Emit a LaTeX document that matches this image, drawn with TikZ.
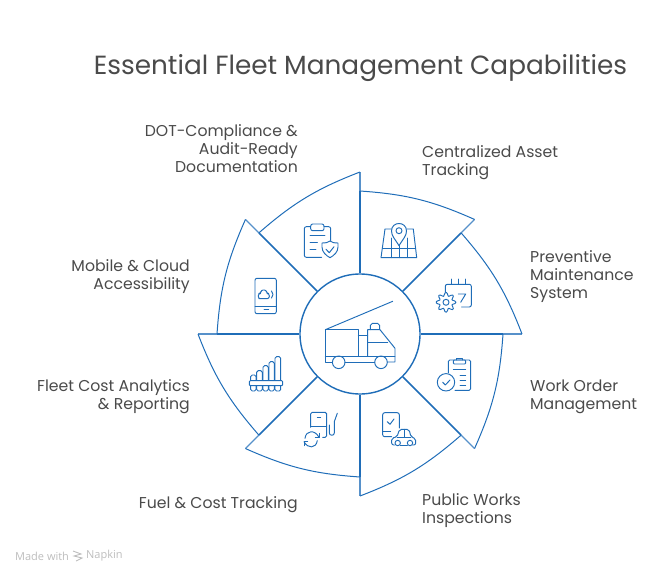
\documentclass[tikz,border=0pt]{standalone}
\usepackage{fontspec}
\setmainfont{Poppins}
\newfontfamily\footfont{Open Sans}
\usepackage{xcolor}
\definecolor{fleetblue}{HTML}{1F6DB8}
\definecolor{labelgray}{HTML}{4A4A4A}
\definecolor{footgray}{HTML}{BDBDBD}
\tikzset{
  petal/.style={draw=fleetblue,line width=1pt},
  spoke/.style={draw=fleetblue,line width=1.5pt},
  spokeend/.style={draw=fleetblue!75,line width=1.1pt},
  icon/.style={draw=fleetblue,line width=0.95pt,line cap=round,line join=round},
  lblleft/.style={anchor=east,align=right,inner sep=0pt,text=labelgray,font=\fontsize{15.7}{18}\selectfont},
  lblright/.style={anchor=west,align=left,inner sep=0pt,text=labelgray,font=\fontsize{15.7}{18}\selectfont},
}
\begin{document}
\begin{tikzpicture}[x=1pt,y=-1pt]
\useasboundingbox (0,0) rectangle (672,575);
\node[circle,minimum size=120pt,inner sep=0pt,draw=fleetblue,line width=1.4pt] (hub) at (360,334) {};
\foreach \i/\a in {1/-90,2/-45,3/0,4/45,5/90,6/135,7/180,8/225} {
  \coordinate (inner\i) at ([shift={(\a:143)}]hub.center);
  \coordinate (tip\i) at ([shift={(\a:162)}]hub.center);
  \draw[spoke] (hub) -- (inner\i);
  \draw[spokeend] (inner\i) -- (tip\i);
}
\foreach \i/\j in {1/2,2/3,3/4,4/5,5/6,6/7,7/8,8/1} {
  \draw[petal] (inner\i) to[bend left=10] (tip\j);
}
% truck
\draw[icon] (325.3,329.7) rectangle (358.3,356);
\draw[icon] (325.3,356) -- (325.3,362) -- (332.4,362);
\draw[icon] (345,362) -- (374.7,362);
\draw[icon] (387.3,362) -- (395,362) -- (395,348.3) -- (380,329.7) -- (367.7,329.7) -- (367.7,356);
\draw[icon] (325.3,356) -- (395,356);
\draw[icon] (358.3,335) -- (367.7,335);
\draw[icon] (367.7,342.3) -- (387.7,342.3);
\draw[icon] (370.3,329.7) -- (370.3,325.5) to[bend left=20] (372.5,323.3) -- (377.5,323.3) to[bend left=20] (379.7,325.5) -- (379.7,329.7);
\draw[icon] (325.3,329.7) -- (392.7,301.3);
\draw[icon] (338.7,362.3) circle (6.3);
\draw[icon] (381,362.3) circle (6.3);
% map pin
\draw[icon] (399,230.7) circle (3);
\draw[icon] (399,245.7) .. controls (395,239) and (391.5,236) .. (391.5,231) .. controls (391.5,221) and (406.5,221) .. (406.5,231) .. controls (406.5,236) and (403,239) .. (399,245.7);
\draw[icon] (391.7,229) -- (385,229) -- (381,257.7) -- (416.7,257.7) -- (413.3,229) -- (406.7,229);
\draw[icon] (382.7,248.3) -- (415,248.3);
\draw[icon] (391.7,238) -- (391.7,257.7);
\draw[icon] (407,238) -- (407,257.7);
\draw[icon] (399,245.7) -- (399,257.7);
% calendar and gear
\draw[icon,rounded corners=2pt] (445.3,292) -- (445.3,284.3) -- (471.3,284.3) -- (471.3,307) -- (461.7,307);
\draw[icon] (451.7,279) -- (451.7,284.3);
\draw[icon] (458.3,279) -- (458.3,284.3);
\draw[icon] (465,279) -- (465,284.3);
\draw[icon] (458.3,294) -- (465.7,294) -- (460.7,302.3);
\draw[icon,shift={(446,302.3)}] plot[smooth cycle,domain=0:352,samples=45] (\x:{8.2+1.8*cos(8*\x)});
\draw[icon] (446,302.3) circle (3);
% clipboard with tick
\draw[icon,rounded corners=1.5pt] (448.3,373) -- (448.3,360) -- (470.7,360) -- (470.7,390.3) -- (455,390.3);
\draw[icon,rounded corners=1pt] (453.3,360) rectangle (465.7,364);
\draw[icon] (456.5,360) -- (456.5,358.5) -- (462.5,358.5) -- (462.5,360);
\draw[icon] (453.3,369.3) -- (465.7,369.3);
\draw[icon] (460,375) -- (465.7,375);
\draw[icon] (460,380) -- (465.7,380);
\draw[icon] (460,385) -- (465.7,385);
\draw[icon] (446,382.3) circle (8.7);
\draw[icon] (442.7,382.3) -- (445.3,385) -- (450,380);
% phone and car
\draw[icon,rounded corners=2pt] (399.3,428) -- (399.3,412.7) -- (382.7,412.7) -- (382.7,436.7) -- (391.7,436.7);
\draw[icon] (382.7,431) -- (390.7,431);
\draw[icon] (387.3,421.7) -- (390,424.3) -- (394,419);
\draw[icon,rounded corners=2pt] (394.7,445) -- (391.7,445) -- (391.7,438) -- (397,437) -- (399.5,429.3) -- (409,429.3) -- (411,437) -- (415.7,438.5) -- (415.7,445) -- (412.7,445);
\draw[icon] (400.4,445) -- (407.3,445);
\draw[icon] (397,437) -- (411,437);
\draw[icon] (404.3,429.3) -- (404.3,437);
\draw[icon] (397.7,443) circle (2.7);
\draw[icon] (410,443) circle (2.7);
% pump
\draw[icon,rounded corners=1.5pt] (310.7,427.3) -- (310.7,412.3) -- (326.7,412.3) -- (326.7,437.3) -- (322.7,437.3);
\draw[icon] (310.7,426) -- (326.7,426);
\draw[icon] (317.3,417.3) -- (320.7,417.3);
\draw[icon] (329.3,425) -- (329.3,433) .. controls (329.3,436) and (334.3,436) .. (334.3,433) -- (334.3,421.7) -- (337.3,413.3);
\draw[icon] (305,438.3) .. controls (306,430) and (315,429.5) .. (319,437.3);
\draw[icon] (319,433.3) -- (319,437.3) -- (315.3,437.3);
\draw[icon] (317.3,440.7) .. controls (316,448.5) and (308,449) .. (304,441.7);
\draw[icon] (304,445.7) -- (304,441.7) -- (307.7,441.7);
% bars
\draw[icon,rounded corners=1.5pt] (250.7,391) rectangle (256,375);
\draw[icon,rounded corners=1.5pt] (256.7,391) rectangle (262.3,370.7);
\draw[icon,rounded corners=1.5pt] (263,391) rectangle (268.3,365.7);
\draw[icon,rounded corners=1.5pt] (269,391) rectangle (274.3,361.7);
\draw[icon,rounded corners=1.5pt] (275,391) rectangle (280.7,356.7);
\draw[icon,fill=white,rounded corners=1pt] (249.3,380.7) rectangle (282.7,385.7);
% phone and cloud
\draw[icon,rounded corners=2pt] (255,278.3) rectangle (276.3,313.7);
\draw[icon] (255,306) -- (276.3,306);
\draw[icon] (264,309.7) -- (268.7,309.7);
\draw[icon,rounded corners=2.2pt] (261,298.7) -- (258.3,298.7) -- (258.3,293.5) -- (261,293.5) -- (261,290) -- (266.5,290) -- (266.5,293.5) -- (269.3,293.5) -- (269.3,298.7) -- cycle;
\draw[icon] (271.5,291) .. controls (273.5,293) and (273.5,296) .. (271.5,298);
% clipboard with shield
\draw[icon,rounded corners=2pt] (310.7,226.7) -- (304.3,226.7) -- (304.3,257.3) -- (321.7,257.3);
\draw[icon,rounded corners=2pt] (324,226.7) -- (330.7,226.7) -- (330.7,240.7);
\draw[icon,rounded corners=2pt] (310.7,224) rectangle (324,230.7);
\draw[icon] (310,235.7) -- (325,235.7);
\draw[icon] (310,242.7) -- (317.3,242.7);
\draw[icon] (310,249.3) -- (316,249.3);
\draw[icon] (322,243) .. controls (326,243) and (328,242.5) .. (330,241) .. controls (332,242.5) and (334,243) .. (338,243) -- (338,247) .. controls (338,252) and (334,255.5) .. (330,257.7) .. controls (326,255.5) and (322,252) .. (322,247) -- cycle;
\draw[icon] (326,249.3) -- (329.3,252.7) -- (334,246.7);
% labels
\node[anchor=center,inner sep=0pt,text=labelgray,font=\fontsize{26.3}{30}\selectfont] (title) at (360.5,68) {Essential Fleet Management Capabilities};
\node[lblleft] (docs) at (298,149) {DOT-Compliance \&\\Audit-Ready\\Documentation};
\node[lblright] (asset) at (422,163) {Centralized Asset\\Tracking};
\node[lblright] (maint) at (530,277) {Preventive\\Maintenance\\System};
\node[lblright] (order) at (530,397) {Work Order\\Management};
\node[lblright] (works) at (422,511) {Public Works\\Inspections};
\node[lblleft] (fuel) at (298,505) {Fuel \& Cost Tracking};
\node[lblleft] (cost) at (190,397) {Fleet Cost Analytics\\\& Reporting};
\node[lblleft] (mobile) at (190,277) {Mobile \& Cloud\\Accessibility};
% footer
\node[anchor=west,inner sep=0pt,text=footgray,font=\footfont\fontsize{11}{12}\selectfont] (made) at (15,556) {Made with};
\node[anchor=west,inner sep=0pt,text=footgray,font=\footfont\fontsize{11}{12}\selectfont] (napkin) at (86,556) {Napkin};
\draw[draw=footgray,line width=0.9pt] (73,551) -- (81,554) -- (74,556) -- (82,558) -- (76,561);
\end{tikzpicture}
\end{document}
